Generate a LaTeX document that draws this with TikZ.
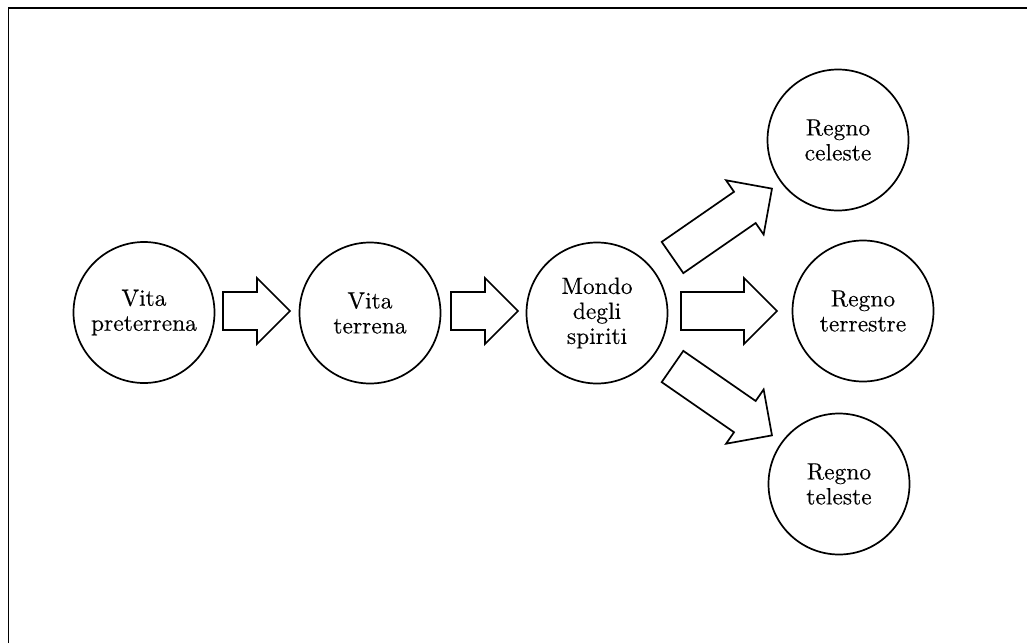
\documentclass[tikz,border=0pt]{standalone}
\usepackage{fontspec}
\setmainfont{lmroman10-regular.otf}[FakeBold=0.3]
\begin{document}
\begin{tikzpicture}[x=1pt,y=-1pt,
  stage/.style={draw,circle,line width=1.7pt,minimum size=141pt,inner sep=0pt,align=center,font=\fontsize{23.5}{25}\selectfont},
  arrowline/.style={draw,line width=1.7pt,line join=miter,fill=white},
  pics/blockarrow/.style={code={
    \draw[arrowline] (0,-19) -- (#1,-19) -- (#1,-33) -- ({#1+33},0) -- (#1,33) -- (#1,19) -- (0,19) -- cycle;
  }}]
\useasboundingbox (0,0) rectangle (1027,643);
\draw[line width=1.8pt] (8.5,643) -- (8.5,8) -- (1027,8);

\node[stage] (A) at (144,312.5) {Vita\\preterrena};
\node[stage] (B) at (370,313) {Vita\\terrena};
\node[stage] (C) at (597,313) {Mondo\\degli\\spiriti};
\node[stage] (D) at (838,140) {Regno\\celeste};
\node[stage] (E) at (863,311) {Regno\\terrestre};
\node[stage] (F) at (839,484) {Regno\\teleste};

\coordinate (a1) at (223,311);
\coordinate (a2) at (451,311);
\coordinate (a3) at (681,311);
\coordinate (a4) at (672.5,257.5);
\coordinate (a5) at (672.5,366.5);

\pic at (a1) {blockarrow=34};
\pic at (a2) {blockarrow=34};
\pic at (a3) {blockarrow=63};
\pic[rotate=34.7] at (a4) {blockarrow=88};
\pic[rotate=-34.7] at (a5) {blockarrow=88};
\end{tikzpicture}
\end{document}
